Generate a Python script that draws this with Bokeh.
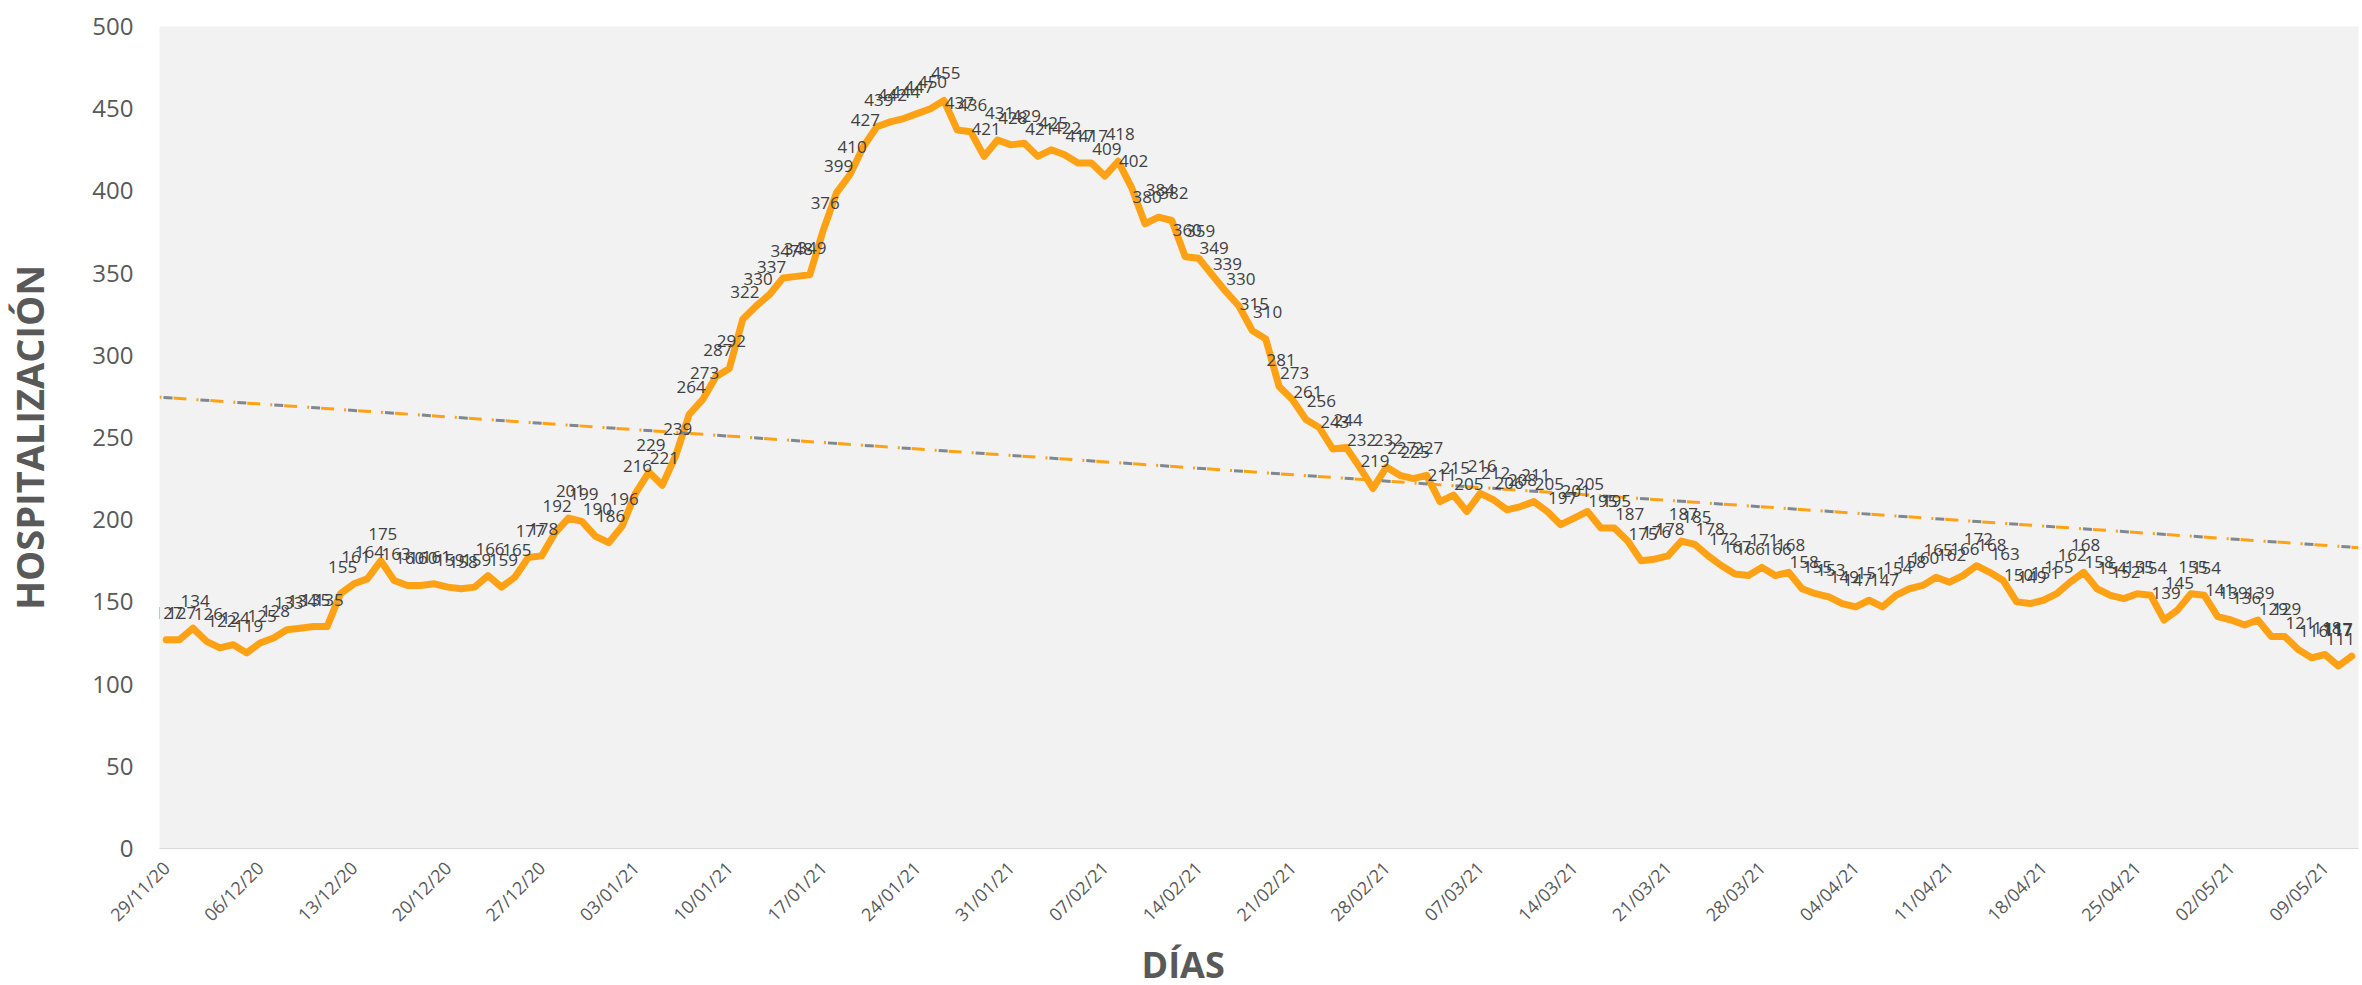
import numpy as np
from bokeh.plotting import figure
from bokeh.models import Range1d, FixedTicker, Title
from bokeh.core.properties import value
from bokeh.embed import file_html
from bokeh.resources import INLINE

# Daily hospitalisation values from 29/11/20 to 10/05/21
hosp = [
    127, 127, 134, 126, 122, 124, 119, 125, 128, 133, 134, 135, 135, 155, 161, 164, 175, 163, 160, 160,
    161, 159, 158, 159, 166, 159, 165, 177, 178, 192, 201, 199, 190, 186, 196, 216, 229, 221, 239, 264,
    273, 287, 292, 322, 330, 337, 347, 348, 349, 376, 399, 410, 427, 439, 442, 444, 447, 450, 455, 437,
    436, 421, 431, 428, 429, 421, 425, 422, 417, 417, 409, 418, 402, 380, 384, 382, 360, 359, 349, 339,
    330, 315, 310, 281, 273, 261, 256, 243, 244, 232, 219, 232, 227, 225, 227, 211, 215, 205, 216, 212,
    206, 208, 211, 205, 197, 201, 205, 195, 195, 187, 175, 176, 178, 187, 185, 178, 172, 167, 166, 171,
    166, 168, 158, 155, 153, 149, 147, 151, 147, 154, 158, 160, 165, 162, 166, 172, 168, 163, 150, 149,
    151, 155, 162, 168, 158, 154, 152, 155, 154, 139, 145, 155, 154, 141, 139, 136, 139, 129, 129, 121,
    116, 118, 111, 117,
]
tick_labels = [
    "29/11/20", "06/12/20", "13/12/20", "20/12/20", "27/12/20", "03/01/21", "10/01/21", "17/01/21",
    "24/01/21", "31/01/21", "07/02/21", "14/02/21", "21/02/21", "28/02/21", "07/03/21", "14/03/21",
    "21/03/21", "28/03/21", "04/04/21", "11/04/21", "18/04/21", "25/04/21", "02/05/21", "09/05/21",
]
y_ticks = [0, 50, 100, 150, 200, 250, 300, 350, 400, 450, 500]

days = list(range(len(hosp)))
tick_pos = [7 * i for i in range(len(tick_labels))]

FONT = "Open Sans"
ORANGE = "#FFA114"
GREY = "#595959"

p = figure(frame_width=2199, frame_height=822, output_backend="svg", toolbar_location=None,
           x_range=Range1d(-0.5, len(hosp) - 0.5), y_range=Range1d(0, 500),
           min_border_left=152, min_border_right=3, min_border_top=26, min_border_bottom=0)
p.background_fill_color = "#F2F2F2"
p.border_fill_color = "white"
p.outline_line_color = None
p.grid.grid_line_color = None

# axes
p.xaxis.ticker = FixedTicker(ticks=tick_pos)
p.xaxis.major_label_overrides = {t: l for t, l in zip(tick_pos, tick_labels)}
p.xaxis.major_label_orientation = np.pi / 4
p.xaxis.major_label_text_font = FONT
p.xaxis.major_label_text_font_size = "18px"
p.xaxis.major_label_text_color = GREY
p.xaxis.axis_line_color = "#D9D9D9"
p.xaxis.major_tick_line_color = None
p.xaxis.minor_tick_line_color = None
p.xaxis.major_label_standoff = 10

p.yaxis.ticker = FixedTicker(ticks=y_ticks)
p.yaxis.major_label_text_font = FONT
p.yaxis.major_label_text_font_size = "24px"
p.yaxis.major_label_text_color = GREY
p.yaxis.axis_line_color = None
p.yaxis.major_tick_line_color = None
p.yaxis.minor_tick_line_color = None
p.yaxis.major_label_standoff = 20
p.yaxis.axis_label = "HOSPITALIZACIÓN"
p.yaxis.axis_label_text_font = FONT
p.yaxis.axis_label_text_font_size = "38px"
p.yaxis.axis_label_text_font_style = "bold"
p.yaxis.axis_label_text_color = GREY
p.yaxis.axis_label_standoff = 34

# main series
p.line(days, hosp, line_width=7, line_color=ORANGE, line_join="round", line_cap="round")

# linear trend line
coef = np.polyfit(days, hosp, 1)
tx = [-0.5, len(hosp) - 0.5]
ty = [coef[0] * x + coef[1] for x in tx]
p.line(tx, ty, line_width=3, line_color="#7F8891", line_dash="9 28", line_dash_offset=33)
p.line(tx, ty, line_width=3, line_color=ORANGE, line_dash="2 12 13 10")

# data labels
p.text(days[:-1], hosp[:-1], text=[str(v) for v in hosp[:-1]], text_align="center",
       text_baseline="middle", x_offset=2, y_offset=-27, text_font=value(FONT),
       text_font_size="17px", text_color="#404040")
p.text([days[-1]], [hosp[-1]], text=[str(hosp[-1])], text_align="center",
       text_baseline="middle", x_offset=-14, y_offset=-27, text_font=value(FONT),
       text_font_size="17px", text_color="#404040", text_font_style="bold")

# x-axis title (placed left of the frame centre, as in the reference)
p.add_layout(Title(text="DÍAS", align="left", offset=982, standoff=0,
                   text_font=FONT, text_font_size="36px", text_font_style="bold",
                   text_color=GREY), "below")

open("out.html", "w").write(file_html(p, INLINE))
